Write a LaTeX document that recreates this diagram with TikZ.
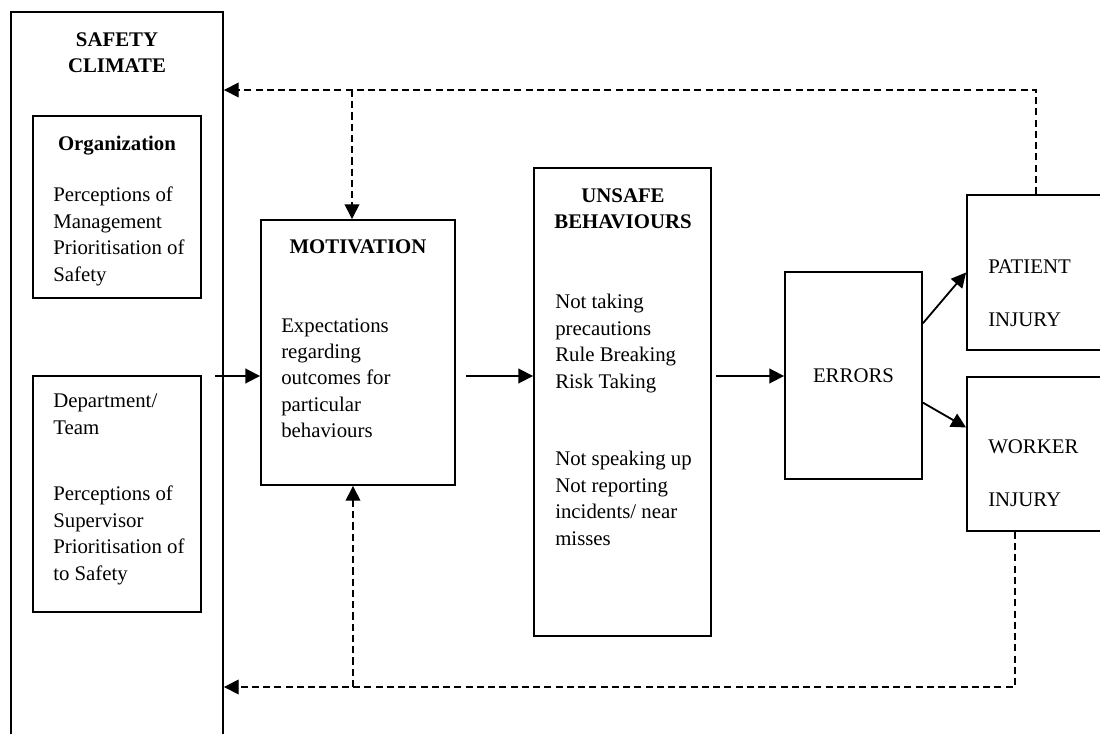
\documentclass[tikz,border=0pt]{standalone}
\usepackage{fontspec}
\setmainfont{Liberation Serif}
\usetikzlibrary{positioning,calc,arrows.meta}

\begin{document}
\begin{tikzpicture}[x=0.025cm,y=-0.025cm]
\tikzset{box/.style 2 args={draw,line width=1.3pt,inner sep=0pt,minimum width=#1,minimum height=#2,font=\fontsize{14.8}{18.8}\selectfont},
  ttl/.style={font=\bfseries\fontsize{14.8}{18.8}\selectfont,align=center,inner sep=0pt,anchor=north},
  txt/.style={font=\fontsize{14.8}{18.8}\selectfont,align=left,inner sep=0pt,anchor=north west},
  arr/.style={-{Triangle[length=10.5pt,width=10.5pt]},line width=1.3pt},
  fb/.style={-{Triangle[length=10.5pt,width=10.5pt]},line width=1pt,dash pattern=on 5pt off 3pt}};
   \useasboundingbox (0,0) rectangle (1100,734);

   \node[box={5.3cm}{18.7cm}] at (117,386) (clim) {};
   \node[box={4.2cm}{4.55cm}] at (117,207) (org) {};
   \node[box={4.2cm}{5.9cm}] at (117,494) (dept) {};
   \node[box={4.85cm}{6.625cm}] at (358,352.5) (motiv) {};
   \node[box={4.425cm}{11.7cm}] at (622.5,402) (unsafe) {};
   \node[box={3.425cm}{5.175cm}] at (853.5,375.5) (errors) {ERRORS};
   \node[box={3.575cm}{3.875cm}] at (1038.5,272.5) (patient) {};
   \node[box={3.575cm}{3.85cm}] at (1038.5,454) (worker) {};

   \node[ttl] at (117,32) (climttl) {SAFETY\\CLIMATE};
   \node[ttl] at (117,136) (orgttl) {Organization};
   \node[txt] at (53,187) (orgtxt) {Perceptions of\\Management\\Prioritisation of\\Safety};
   \node[txt] at (53,394) (deptttl) {Department/\\Team};
   \node[txt] at (53,486) (depttxt) {Perceptions of\\Supervisor\\Prioritisation of\\to Safety};
   \node[ttl] at (358,239) (motivttl) {MOTIVATION};
   \node[txt] at (281,318) (motivtxt) {Expectations\\regarding\\outcomes for\\particular\\behaviours};
   \node[ttl] at (623,188) (unsafettl) {UNSAFE\\BEHAVIOURS};
   \node[txt] at (555,294) (unsafetxt) {Not taking\\precautions\\Rule Breaking\\Risk Taking};
   \node[txt] at (555,451) (unsafetxtb) {Not speaking up\\Not reporting\\incidents/ near\\misses};
   \node[txt,font=\fontsize{14.8}{38.3}\selectfont] at (988,259) (patienttxt) {PATIENT\\INJURY};
   \node[txt,font=\fontsize{14.8}{38.3}\selectfont] at (988,439) (workertxt) {WORKER\\INJURY};

   % main chain
   \coordinate (in) at (215,376);
   \coordinate (m2u) at (466,376);
   \coordinate (u2e) at (716,376);
   \draw[arr] (in) -- (in -| motiv.west);
   \draw[arr] (m2u) -- (m2u -| unsafe.west);
   \draw[arr] (u2e) -- (u2e -| errors.west);
   \draw[arr] ($(errors.north east)!0.25!(errors.south east)$) -- (patient.west);
   \draw[arr] ($(errors.north east)!0.63!(errors.south east)$) -- ($(worker.north west)!0.33!(worker.south west)$);

   % feedback loops
   \coordinate (fbtop) at (1036,90);
   \coordinate (fbmot) at (352,90);
   \coordinate (fbbot) at (1015,687);
   \coordinate (fbmotb) at (353,687);
   \draw[fb] (patient.north -| fbtop) -- (fbtop) -- (fbtop -| clim.east);
   \draw[fb] (fbmot) -- (fbmot |- motiv.north);
   \draw[fb] (worker.south -| fbbot) -- (fbbot) -- (fbbot -| clim.east);
   \draw[fb] (fbmotb) -- (fbmotb |- motiv.south);
 \end{tikzpicture}
\end{document}
